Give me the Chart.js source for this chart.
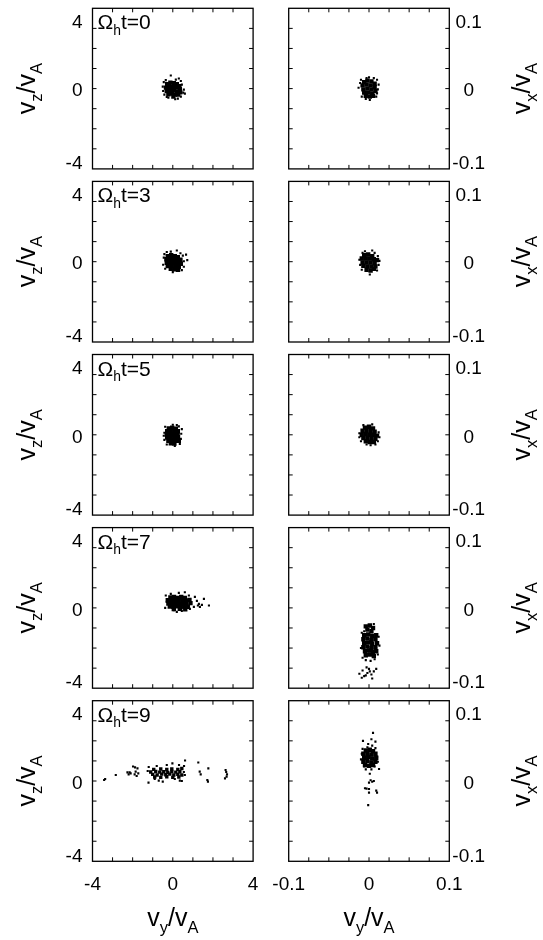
<!DOCTYPE html>
<html>
<head>
<meta charset="utf-8">
<title>Velocity space snapshots</title>
<script src="https://cdn.jsdelivr.net/npm/chart.js@4.4.0/dist/chart.umd.min.js"></script>
<style>
  html, body { margin: 0; padding: 0; background: #fff; }
  #figure { position: relative; width: 543px; height: 940px; overflow: hidden; }
  #figure canvas { position: absolute; }
</style>
</head>
<body>
<div id="figure"></div>
<script>
// snapshot times, Omega_h t
const times = [0, 3, 5, 7, 9];

// axis ranges and tick labels
const vyvzRange = [-4, 4];
const vyvzTicks = [-4, 0, 4];
const vyvzMinor = 1;
const vyvxRange = [-0.1, 0.1];
const vyvxTicks = [-0.1, 0, 0.1];
const vyvxMinor = 0.025;

// --- t = 0 ---
const vz0Core = [[-0.28,0.22],[-0.12,0.3],[0.05,0.27],[0.2,0.22],[0.33,0.12],
  [-0.34,0.05],[-0.17,0.12],[0.01,0.08],[0.17,0.06],[0.35,-0.03],
  [-0.3,-0.12],[-0.13,-0.07],[0.06,-0.1],[0.22,-0.14],[0.37,-0.19],
  [-0.22,-0.28],[-0.05,-0.25],[0.12,-0.3],[0.27,-0.3],[0.03,-0.4]];
const vz0Pts = [[-0.1,0.65],[-0.45,0.32],[-0.35,0.42],[0.15,0.45],[0.4,0.38],[0.3,0.5],
  [-0.5,0.1],[0.52,-0.2],[0.55,-0.05],[0.12,-0.53],[-0.22,-0.45],[0.4,-0.4],[-0.42,-0.3],
  [0.45,0.2],[-0.3,-0.42],[0.25,-0.5],[-0.48,-0.12],[0.6,-0.25]];
const vx0Core = [[-0.006,0.008],[-0.002,0.01],[0.003,0.009],[0.007,0.006],
  [-0.008,0.004],[-0.003,0.005],[0.002,0.004],[0.007,0.002],
  [-0.007,-0.001],[-0.002,0],[0.003,-0.001],[0.008,-0.003],
  [-0.006,-0.005],[-0.001,-0.005],[0.004,-0.006],
  [-0.004,-0.009],[0.001,-0.01],[0.005,-0.009]];
const vx0Pts = [[-0.013,0.001],[-0.01,0.011],[0.01,0.011],[0.011,-0.001],[0.012,0.005],
  [0,0.014],[-0.003,0.013],[0.001,-0.014],[-0.009,-0.01],[0.009,-0.01],[-0.011,0.007],
  [0.006,0.013],[-0.004,-0.013],[0.01,-0.006]];

// --- t = 3 ---
const vz3Core = [[-0.25,0.28],[-0.08,0.32],[0.1,0.28],[0.25,0.22],
  [-0.32,0.12],[-0.15,0.15],[0.02,0.12],[0.2,0.08],[0.38,0.1],
  [-0.3,-0.05],[-0.12,-0.02],[0.06,-0.04],[0.24,-0.08],[0.4,-0.1],
  [-0.25,-0.22],[-0.06,-0.2],[0.12,-0.22],[0.3,-0.26],
  [-0.1,-0.36],[0.08,-0.38],[0.26,-0.4]];
const vz3Pts = [[0.66,0.35],[0.2,0.56],[-0.3,0.48],[-0.1,0.5],[0.72,0.08],[0.55,0.02],
  [0.45,-0.42],[-0.45,0.2],[-0.48,-0.15],[0.5,0.3],[-0.38,-0.35],[0,-0.52],[0.38,0.42],
  [0.55,-0.25],[-0.42,0.38]];
const vx3Core = [[-0.006,0.008],[-0.001,0.009],[0.004,0.007],
  [-0.009,0.004],[-0.004,0.004],[0.001,0.004],[0.006,0.003],[0.01,0.002],
  [-0.008,-0.001],[-0.003,-0.001],[0.002,-0.001],[0.007,-0.002],
  [-0.007,-0.005],[-0.002,-0.006],[0.003,-0.006],[0.008,-0.006],
  [-0.003,-0.01],[0.002,-0.011],[0.006,-0.009]];
const vx3Pts = [[0.004,0.014],[0.001,-0.016],[-0.012,0.0025],[-0.011,-0.004],[0.011,0.007],
  [0.012,-0.004],[-0.008,0.011],[0.007,0.011],[-0.009,-0.01],[0.01,-0.011],[-0.005,0.013],
  [0.013,0.001]];

// --- t = 5 ---
const vz5Core = [[-0.2,0.32],[-0.03,0.35],[0.15,0.3],
  [-0.28,0.18],[-0.1,0.2],[0.08,0.16],[0.25,0.18],
  [-0.3,0.02],[-0.12,0.04],[0.06,0],[0.24,0.02],
  [-0.28,-0.14],[-0.1,-0.12],[0.08,-0.15],[0.26,-0.12],
  [-0.22,-0.3],[-0.04,-0.28],[0.14,-0.3],[0.3,-0.3],
  [-0.1,-0.42],[0.08,-0.44]];
const vz5Pts = [[-0.38,0.4],[0.3,0.42],[0,0.5],[-0.42,0.1],[0.42,0.05],[0.4,-0.2],
  [-0.42,-0.25],[0.35,-0.45],[-0.3,-0.48],[0.1,-0.55],[0.45,0.28],[-0.45,-0.05],[0.2,0.48]];
const vx5Core = [[-0.005,0.009],[0,0.01],[0.005,0.008],
  [-0.008,0.005],[-0.003,0.005],[0.002,0.005],[0.007,0.004],
  [-0.009,0],[-0.004,0.001],[0.001,0],[0.006,0],[0.01,-0.001],
  [-0.007,-0.004],[-0.002,-0.004],[0.003,-0.005],[0.008,-0.005],
  [-0.004,-0.008],[0.001,-0.009],[0.006,-0.009]];
const vx5Pts = [[-0.012,0.002],[0.012,0.003],[-0.01,-0.008],[0.011,-0.008],[0.002,-0.013],
  [0.008,-0.012],[-0.007,0.012],[0.004,0.013],[-0.012,-0.003],[0.013,-0.003],[-0.003,-0.012]];

// --- t = 7 ---
const vz7Core = [[-0.12,0.52],[0.06,0.55],[0.24,0.5],[0.42,0.54],[0.6,0.5],
  [-0.25,0.38],[-0.07,0.36],[0.11,0.4],[0.29,0.35],[0.47,0.38],[0.65,0.36],[0.83,0.4],
  [-0.22,0.22],[-0.04,0.2],[0.14,0.23],[0.32,0.19],[0.5,0.22],[0.68,0.2],[0.88,0.24],
  [-0.15,0.07],[0.03,0.05],[0.21,0.08],[0.39,0.04],[0.57,0.07],[0.75,0.06],
  [0.05,-0.06],[0.35,-0.04],[0.62,-0.07]];
const vz7Pts = [[1.25,0.12],[1.35,0.05],[1.3,0.2],[1.45,0.15],[1.8,0.12],[1.55,0.45],
  [1.1,0.55],[0.6,0.78],[0.3,0.75],[-0.35,0.62],[-0.38,0],[-0.3,0.3],[0.2,-0.2],[0.45,-0.15],
  [0.05,-0.12],[0.85,-0.05],[1.05,0.05],[0.8,0.62],[-0.1,0.7],[1.2,0.35]];
const vx7Core = [[-0.004,-0.023],[0.001,-0.022],[0.005,-0.025],[-0.002,-0.027],[0.003,-0.029],
  [-0.006,-0.034],[-0.001,-0.033],[0.004,-0.035],[0.009,-0.034],
  [-0.007,-0.039],[-0.002,-0.038],[0.003,-0.04],[0.008,-0.039],
  [-0.006,-0.044],[-0.001,-0.043],[0.004,-0.045],[0.01,-0.044],
  [-0.007,-0.049],[-0.002,-0.048],[0.003,-0.05],[0.008,-0.049],
  [-0.005,-0.054],[0,-0.053],[0.005,-0.055],[0.009,-0.054],
  [-0.004,-0.059],[0.001,-0.058],[0.006,-0.06]];
const vx7Pts = [[-0.012,-0.082],[-0.008,-0.078],[-0.006,-0.085],[-0.003,-0.074],[0,-0.076],
  [-0.002,-0.081],[0.003,-0.083],[0.006,-0.079],[0.009,-0.076],[-0.009,-0.087],[0.004,-0.088],
  [-0.004,-0.084],[0.001,-0.079],[-0.009,-0.031],[0.012,-0.036],[-0.01,-0.05],[0.013,-0.047],
  [0.011,-0.058],[-0.008,-0.062],[0.002,-0.066],[0.007,-0.064],[-0.004,-0.065],[0.006,-0.02],
  [-0.006,-0.029]];

// --- t = 9 ---
const vz9Core = [[-0.95,0.58],[-0.6,0.6],[-0.3,0.57],[-0.05,0.6],[0.25,0.58],[0.45,0.62],
  [-1.1,0.45],[-0.85,0.47],[-0.65,0.44],[-0.45,0.46],[-0.25,0.43],[-0.05,0.47],[0.15,0.44],[0.35,0.46],
  [-1,0.33],[-0.78,0.3],[-0.55,0.34],[-0.35,0.31],[-0.15,0.34],[0.05,0.3],[0.25,0.33],[0.45,0.3],
  [-0.9,0.2],[-0.6,0.18],[-0.3,0.21],[0,0.18],[0.3,0.2]];
const vz9Pts = [[-3.42,0.05],[-3.37,0.1],[-2.84,0.3],[-2.26,0.43],[-2.15,0.43],[-2.1,0.38],
  [-2.2,0.33],[-1.98,0.72],[-1.88,0.68],[-1.76,0.63],[-1.85,0.47],[-1.72,0.38],[-1.8,0.25],
  [-1.9,0.33],[-0.02,0.88],[0.31,0.8],[0.61,1.02],[0.56,0.75],[1.27,0.92],[1.34,0.47],
  [1.39,0.33],[1.77,0.63],[1.72,0.05],[1.75,-0.03],[2.63,0.55],[2.66,0.45],[2.7,0.33],
  [2.68,0.22],[2.6,0.13],[-1.21,-0.08],[-0.7,0.02],[-0.5,-0.03],[0.35,0.02],[0.45,0],
  [-1.25,0.5],[-1.2,0.7],[0.55,0.45],[0.6,0.3],[-0.8,0.75],[-0.3,0.8],[0.1,0.1],[-0.9,0.1]];
const vx9Core = [[-0.004,0.038],[0.001,0.039],[0.005,0.037],
  [-0.007,0.034],[-0.002,0.034],[0.003,0.033],[0.008,0.034],
  [-0.006,0.029],[-0.001,0.03],[0.004,0.028],[0.009,0.029],
  [-0.007,0.024],[-0.002,0.025],[0.003,0.023],[0.008,0.024],
  [-0.005,0.02],[0,0.019],[0.005,0.02]];
const vx9Pts = [[0.005,0.06],[0.003,0.052],[-0.0075,0.05],[0.008,0.049],[-0.001,0.046],
  [0.004,0.044],[-0.009,0.034],[0.01,0.03],[0.011,0.024],[-0.01,0.027],[-0.004,0.0145],
  [0.003,0.0145],[0.0125,0.015],[0.001,0.009],[0.002,0.001],[0,-0.002],[0.004,-0.001],
  [0.006,0],[-0.005,-0.009],[-0.003,-0.0095],[0,-0.01],[0.009,-0.012],[0.01,-0.0145],
  [0,-0.0145],[-0.001,-0.03],[-0.008,0.04],[0.008,0.041],[-0.006,0.018],[0.007,0.018],
  [-0.002,0.042]];

const vzCores = [vz0Core, vz3Core, vz5Core, vz7Core, vz9Core];
const vzPoints = [vz0Pts, vz3Pts, vz5Pts, vz7Pts, vz9Pts];
const vxCores = [vx0Core, vx3Core, vx5Core, vx7Core, vx9Core];
const vxPoints = [vx0Pts, vx3Pts, vx5Pts, vx7Pts, vx9Pts];

// axis titles, [text, isSubscript]
const vzTitle = [['v', 0], ['z', 1], ['/v', 0], ['A', 1]];
const vxTitle = [['v', 0], ['x', 1], ['/v', 0], ['A', 1]];
const vyTitle = [['v', 0], ['y', 1], ['/v', 0], ['A', 1]];

// page layout (px)
const FONT = '"Liberation Sans", Arial, Helvetica, sans-serif';
const PANEL = 160.6;
const TOP0 = 8.3;
const ROW_STEP = 173.1;
const LEFT_W = 270, LEFT_AXIS = 92.5;
const RIGHT_X = 270, RIGHT_W = 273, RIGHT_PAD = 18.7;
const PAGE_H = 940;

function drawRich(ctx, parts, x, y, size, align, angle) {
  const subSize = size * 0.66;
  ctx.save();
  ctx.translate(x, y);
  ctx.rotate(angle);
  ctx.fillStyle = '#000';
  ctx.textBaseline = 'alphabetic';
  ctx.textAlign = 'left';
  const widths = parts.map(([t, sub]) => {
    ctx.font = (sub ? subSize : size) + 'px ' + FONT;
    return ctx.measureText(t).width;
  });
  const total = widths.reduce((a, b) => a + b, 0);
  let cx = align === 'center' ? -total / 2 : 0;
  parts.forEach(([t, sub], i) => {
    ctx.font = (sub ? subSize : size) + 'px ' + FONT;
    ctx.fillText(t, cx, sub ? size * 0.27 : 0);
    cx += widths[i];
  });
  ctx.restore();
}

// frame with inward minor ticks on all four sides
const framePlugin = {
  id: 'frame',
  afterDatasetsDraw(chart, args, opts) {
    const { ctx, chartArea: a } = chart;
    const { x, y } = chart.scales;
    const len = 4;
    ctx.save();
    ctx.strokeStyle = '#000';
    ctx.lineWidth = 1.3;
    ctx.strokeRect(a.left, a.top, a.width, a.height);
    ctx.beginPath();
    const nx = Math.round((x.max - x.min) / opts.step);
    for (let i = 1; i < nx; i++) {
      const px = x.getPixelForValue(x.min + i * opts.step);
      ctx.moveTo(px, a.bottom); ctx.lineTo(px, a.bottom - len);
      ctx.moveTo(px, a.top); ctx.lineTo(px, a.top + len);
    }
    const ny = Math.round((y.max - y.min) / opts.step);
    for (let i = 1; i < ny; i++) {
      const py = y.getPixelForValue(y.min + i * opts.step);
      ctx.moveTo(a.left, py); ctx.lineTo(a.left + len, py);
      ctx.moveTo(a.right, py); ctx.lineTo(a.right - len, py);
    }
    ctx.lineWidth = 1;
    ctx.stroke();
    ctx.restore();
  }
};

// IDL-like placement: end labels sit inside the range (extra empty line shifts them)
const labelLines = [10, 5, 28];

function addPanel(row, side) {
  const isLeft = side === 'left';
  const isBottom = row === times.length - 1;
  const range = isLeft ? vyvzRange : vyvxRange;
  const yTicks = isLeft ? vyvzTicks : vyvxTicks;
  const xTicks = isLeft ? vyvzTicks : vyvxTicks;
  const rowTop = TOP0 + row * ROW_STEP;
  const canvasTop = Math.floor(rowTop) - 8;
  const padTop = rowTop - canvasTop;
  const height = isBottom ? PAGE_H - canvasTop : Math.round(padTop + PANEL + 8);
  const xh = height - padTop - PANEL;
  const width = isLeft ? LEFT_W : RIGHT_W;
  const yw = isLeft ? LEFT_AXIS : RIGHT_W - RIGHT_PAD - PANEL;

  const canvas = document.createElement('canvas');
  canvas.width = width;
  canvas.height = height;
  canvas.style.left = (isLeft ? 0 : RIGHT_X) + 'px';
  canvas.style.top = canvasTop + 'px';
  document.getElementById('figure').appendChild(canvas);

  const core = isLeft ? vzCores[row] : vxCores[row];
  const pts = isLeft ? vzPoints[row] : vxPoints[row];
  const coreRadius = isLeft && row === 4 ? 2.4 : 3.1;
  const toXY = p => ({ x: p[0], y: p[1] });
  const tickFont = c => ({ family: FONT, size: 19, lineHeight: labelLines[c.index] + 'px' });

  const textPlugin = {
    id: 'panelText',
    afterDraw(chart) {
      const { ctx, chartArea: a } = chart;
      const midY = (a.top + a.bottom) / 2;
      if (isLeft) {
        drawRich(ctx, vzTitle, a.left - 57.5, midY, 25, 'center', -Math.PI / 2);
        drawRich(ctx, [['\u03A9', 0], ['h', 1], ['t=' + times[row], 0]], a.left + 5, a.top + 21, 21, 'left', 0);
      } else {
        drawRich(ctx, vxTitle, a.right + 80.7, midY, 25, 'center', -Math.PI / 2);
      }
      if (isBottom) {
        drawRich(ctx, vyTitle, (a.left + a.right) / 2, a.bottom + 65, 25, 'center', 0);
      }
    }
  };

  new Chart(canvas, {
    type: 'scatter',
    data: {
      datasets: [
        { data: core.map(toXY), pointRadius: coreRadius },
        { data: pts.map(toXY), pointRadius: 1.5 }
      ]
    },
    options: {
      responsive: false,
      animation: false,
      events: [],
      elements: {
        point: { pointStyle: 'rect', backgroundColor: '#000', borderWidth: 0, hoverRadius: 0 }
      },
      layout: {
        padding: { top: padTop, bottom: 0, left: isLeft ? 0 : RIGHT_PAD, right: isLeft ? LEFT_W - LEFT_AXIS - PANEL : 0 }
      },
      plugins: {
        legend: { display: false },
        tooltip: { enabled: false },
        frame: { step: isLeft ? vyvzMinor : vyvxMinor }
      },
      scales: {
        x: {
          type: 'linear', position: 'bottom', min: range[0], max: range[1],
          afterBuildTicks: s => { s.ticks = xTicks.map(v => ({ value: v })); },
          afterFit: s => {
            s.height = xh;
            s.paddingLeft = 0; s.paddingRight = 0; s.paddingTop = 0; s.paddingBottom = 0;
          },
          grid: { display: false, drawTicks: false },
          border: { display: false },
          ticks: {
            display: isBottom, autoSkip: false, maxRotation: 0, padding: 12,
            color: '#000', font: { family: FONT, size: 19 },
            callback: v => String(v)
          }
        },
        y: {
          type: 'linear', position: isLeft ? 'left' : 'right', min: range[0], max: range[1],
          afterBuildTicks: s => { s.ticks = yTicks.map(v => ({ value: v })); },
          afterFit: s => {
            s.width = yw;
            s.paddingLeft = 0; s.paddingRight = 0; s.paddingTop = 0; s.paddingBottom = 0;
          },
          grid: { display: false, drawTicks: false },
          border: { display: false },
          ticks: {
            autoSkip: false, color: '#000', padding: isLeft ? 10 : 3,
            crossAlign: isLeft ? 'near' : 'center',
            font: tickFont,
            callback: (v, i) => (i === 0 ? [String(v), ''] : ['', String(v)])
          }
        }
      }
    },
    plugins: [framePlugin, textPlugin]
  });
}

times.forEach((t, row) => {
  addPanel(row, 'left');
  addPanel(row, 'right');
});
</script>
</body>
</html>
